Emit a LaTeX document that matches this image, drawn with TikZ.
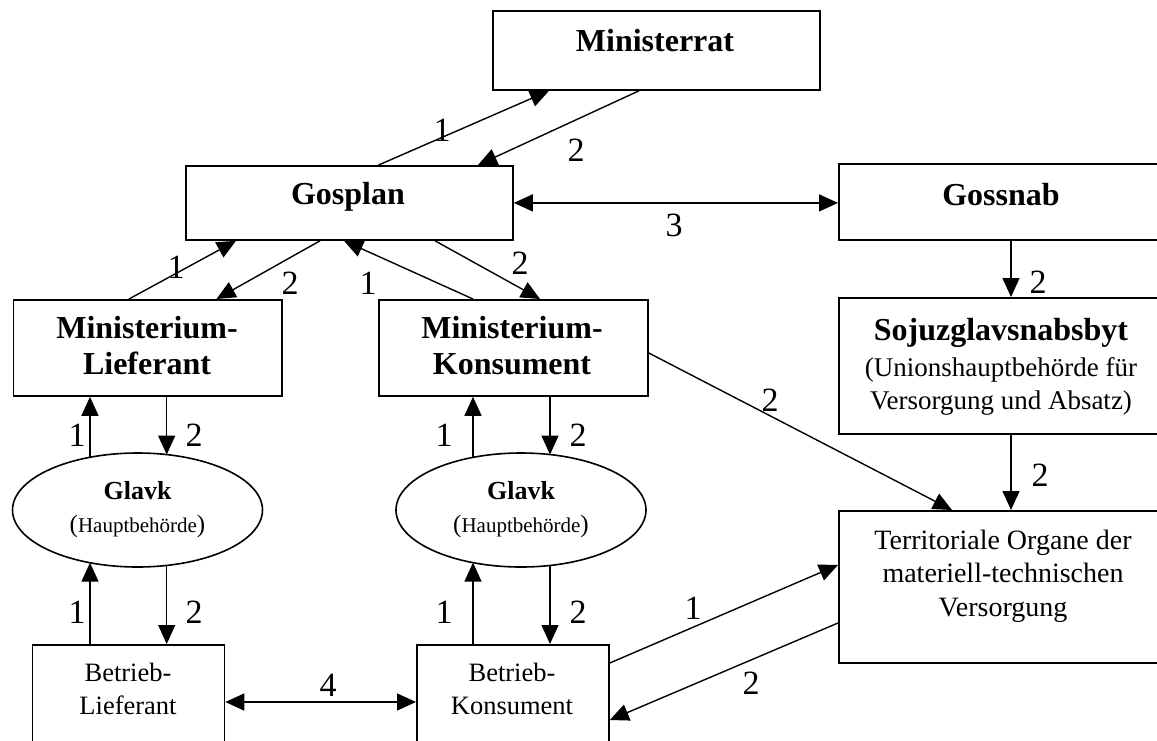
\documentclass[tikz,border=0pt]{standalone}
\usepackage{fontspec}
\setmainfont{Liberation Serif}
\usetikzlibrary{arrows.meta,calc,shapes.geometric}
\newcommand{\hbtext}{{\fontsize{25}{33}\selectfont(}Hauptbehörde{\fontsize{25}{33}\selectfont)}}
\begin{document}
\begin{tikzpicture}[x=1pt,y=-1pt,
  box/.style={draw, line width=1.8pt, inner sep=0pt, anchor=north west},
  oval/.style={draw, ellipse, line width=1.6pt, inner sep=0pt, minimum width=250pt, minimum height=114pt, align=center, font=\fontsize{21}{33}\selectfont},
  conn/.style={line width=1.4pt, -{Triangle[length=19pt,width=17pt]}},
  conn2/.style={line width=1.4pt, {Triangle[length=19pt,width=17pt]}-{Triangle[length=19pt,width=17pt]}},
  num/.style={font=\fontsize{34}{40}\selectfont, inner sep=0pt},
  title/.style={font=\fontsize{32}{36}\selectfont\bfseries, align=center, inner sep=0pt},
  plain/.style={font=\fontsize{26.5}{33}\selectfont, align=center, inner sep=0pt},
]
\clip (0,0) rectangle (1157,740);
% boxes
\node[box, minimum width=327pt, minimum height=79pt] (minrat) at (492,10) {};
\node[box, minimum width=327pt, minimum height=74pt] (gosplan) at (185,165) {};
\node[box, minimum width=340pt, minimum height=76pt] (gossnab) at (838,163) {};
\node[box, minimum width=268.5pt, minimum height=96pt] (minlief) at (12.5,299) {};
\node[box, minimum width=269pt, minimum height=96pt] (minkons) at (378,299) {};
\node[box, minimum width=340pt, minimum height=136pt] (sojuz) at (838,297) {};
\node[box, minimum width=340pt, minimum height=152pt] (terr) at (838,510) {};
\node[box, minimum width=192pt, minimum height=120pt] (betlief) at (31.5,644) {};
\node[box, minimum width=192pt, minimum height=120pt] (betkons) at (416,644) {};
% ellipses
\node[oval] (glavk1) at (137.5,510) {{\fontsize{26}{33}\selectfont\bfseries Glavk}\\\hbtext};
\node[oval] (glavk2) at (521,510) {{\fontsize{26}{33}\selectfont\bfseries Glavk}\\\hbtext};
% texts
\node[title] (minrat-t) at (655,41) {Ministerrat};
\node[title] (gosplan-t) at (348,197) {Gosplan};
\node[title] (gossnab-t) at (1001,195) {Gossnab};
\node[title] (minlief-t) at (147,346) {Ministerium-\\Lieferant};
\node[title] (minkons-t) at (512,346) {Ministerium-\\Konsument};
\node[plain, font=\fontsize{27}{33}\selectfont] (sojuz-t) at (1001,367) {{\fontsize{32}{36}\selectfont\bfseries Sojuzglavsnabsbyt}\\[3pt](Unionshauptbehörde für\\Versorgung und Absatz)};
\node[plain, font=\fontsize{28}{33.5}\selectfont] (terr-t) at (1003,576) {Territoriale Organe der\\materiell-technischen\\Versorgung};
\node[plain] (betlief-t) at (128,689) {Betrieb-\\Lieferant};
\node[plain] (betkons-t) at (512,689) {Betrieb-\\Konsument};
% connectors
\draw[conn] ($(gosplan.north west)+(193.6,0)$) -- ($(minrat.south west)+(57,0)$);
\draw[conn] ($(minrat.south west)+(147,0)$) -- ($(gosplan.north west)+(293,0)$);
\draw[conn2] (gosplan.east) -- (gosplan.east -| gossnab.west);
\draw[conn] ($(gossnab.south west)+(173,0)$) -- ($(sojuz.north west)+(173,0)$);
\draw[conn] ($(minlief.north west)+(116.5,0)$) -- ($(gosplan.south west)+(51,0)$);
\draw[conn] ($(gosplan.south west)+(135,0)$) -- ($(minlief.north west)+(204,0)$);
\draw[conn] ($(minkons.north west)+(95,0)$) -- ($(gosplan.south west)+(159,0)$);
\draw[conn] ($(gosplan.south west)+(250,0)$) -- ($(minkons.north west)+(162,0)$);
\draw[conn] ($(glavk1.center)+(-47.5,-52.7)$) -- ($(minlief.south west)+(77.5,0)$);
\draw[conn] ($(minlief.south west)+(154.2,0)$) -- ($(glavk1.center)+(29.2,-55.4)$);
\draw[conn] ($(betlief.north west)+(58.5,0)$) -- ($(glavk1.center)+(-47.5,52.7)$);
\draw[conn] ($(glavk1.center)+(29.2,55.4)$) -- ($(betlief.north west)+(135.2,0)$);
\draw[conn] ($(glavk2.center)+(-48,-52.6)$) -- ($(minkons.south west)+(95,0)$);
\draw[conn] ($(minkons.south west)+(172,0)$) -- ($(glavk2.center)+(29,-55.4)$);
\draw[conn] ($(betkons.north west)+(57,0)$) -- ($(glavk2.center)+(-48,52.6)$);
\draw[conn] ($(glavk2.center)+(29,55.4)$) -- ($(betkons.north west)+(134,0)$);
\draw[conn] ($(minkons.north east)+(0,54)$) -- ($(terr.north west)+(114,0)$);
\draw[conn] ($(sojuz.south west)+(173,0)$) -- ($(terr.north west)+(173,0)$);
\draw[conn] ($(betkons.north east)+(0,19)$) -- ($(terr.north west)+(0,55)$);
\draw[conn] ($(terr.north west)+(0,113)$) -- ($(betkons.north east)+(0,76)$);
\draw[conn2] ($(betlief.north east)+(0,58)$) -- ($(betkons.north west)+(0,58)$);
% labels
\node[num] (l1) at (442,130) {1};
\node[num] (l2) at (576,150) {2};
\node[num] (l3) at (674,225) {3};
\node[num] (l4) at (1038,282) {2};
\node[num] (l5) at (176,267) {1};
\node[num] (l6) at (290,283) {2};
\node[num] (l7) at (368,283) {1};
\node[num] (l8) at (520,263) {2};
\node[num] (l9) at (77,435) {1};
\node[num] (l10) at (194,435) {2};
\node[num] (l11) at (77,612) {1};
\node[num] (l12) at (194,612) {2};
\node[num] (l13) at (444,435) {1};
\node[num] (l14) at (578,435) {2};
\node[num] (l15) at (444,612) {1};
\node[num] (l16) at (578,612) {2};
\node[num] (l17) at (770,400) {2};
\node[num] (l18) at (1040,475) {2};
\node[num] (l19) at (693,608) {1};
\node[num] (l20) at (751,683) {2};
\node[num] (l21) at (328,685) {4};
\end{tikzpicture}
\end{document}
